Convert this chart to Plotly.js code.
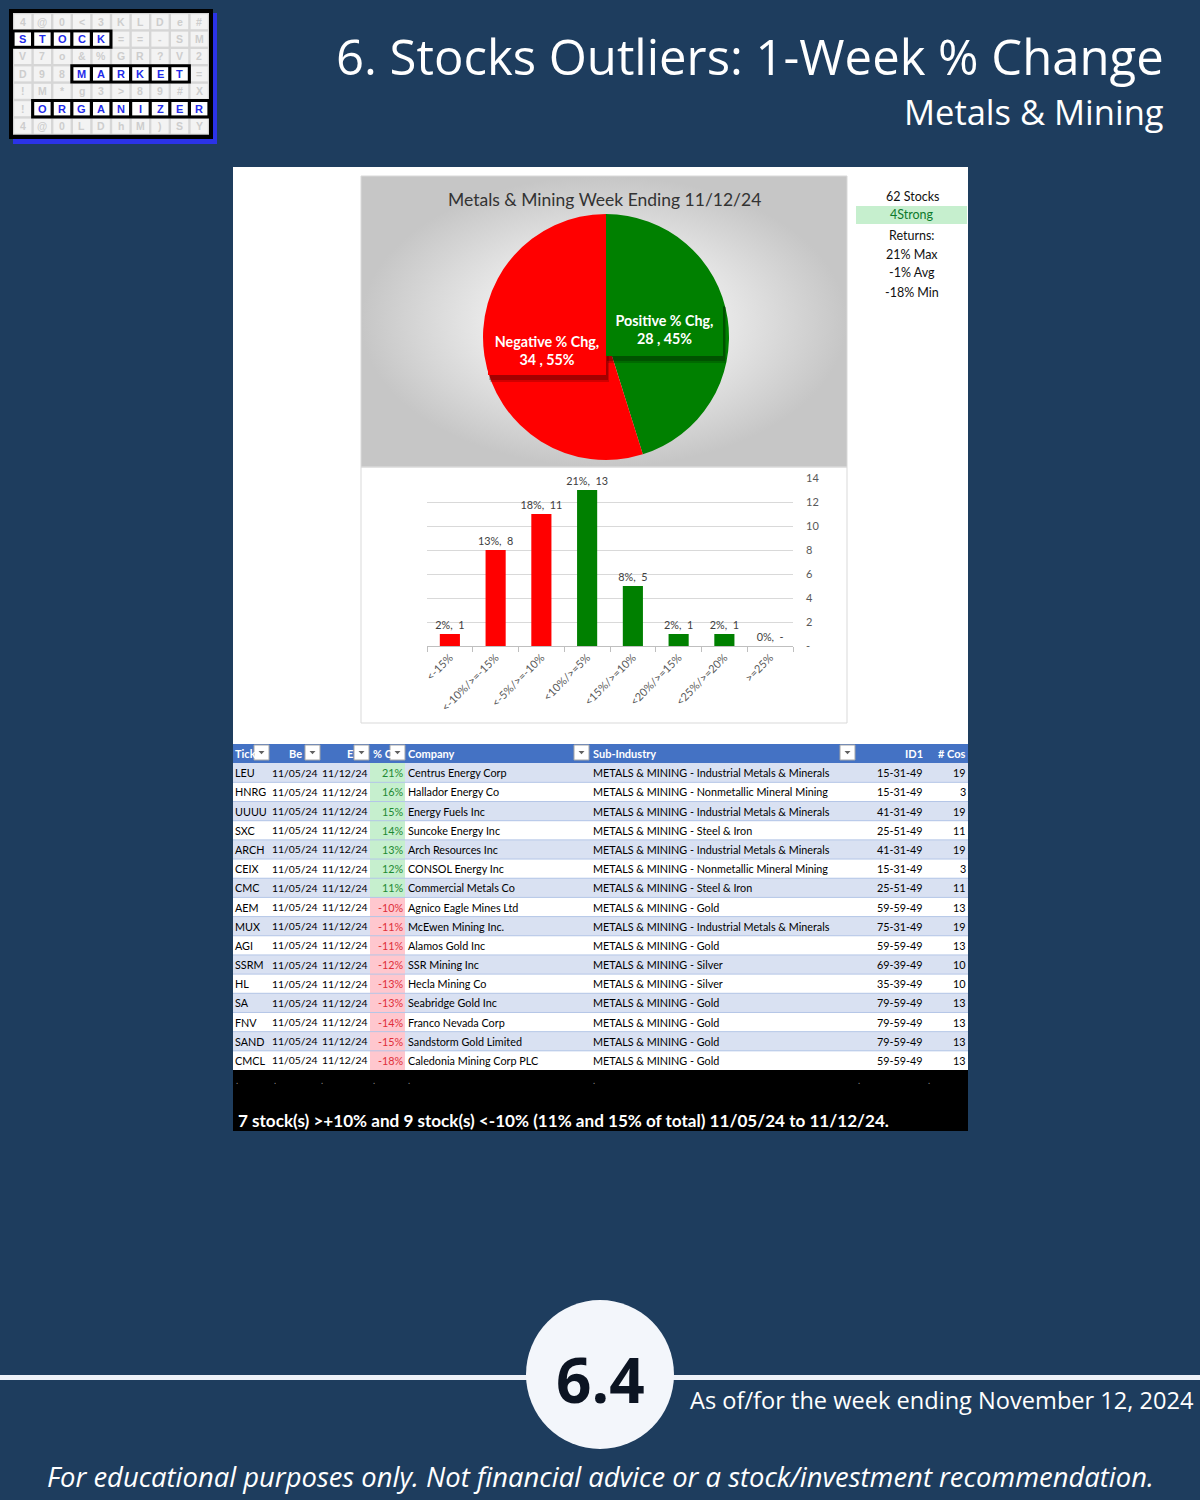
<!DOCTYPE html>
<html><head><meta charset="utf-8">
<script src="https://cdn.plot.ly/plotly-3.0.1.min.js"></script>
<style>
html,body{margin:0;padding:0;background:#1e3d5e;}
#base{width:1200px;height:1500px;}
</style></head><body>
<div id="base"></div>
<script>
// ---------------- DATA ----------------
const pageTitle = '6. Stocks Outliers: 1-Week % Change';
const pageSubtitle = 'Metals & Mining';
const pieTitle = 'Metals & Mining Week Ending 11/12/24';
const pieLabels = ['Positive % Chg', 'Negative % Chg'];
const pieCounts = [28, 34];
const piePct = [45, 55];
const pieColors = ['#008000', '#ff0000'];

const binLabels = ['<-15%', '<-10%/>=-15%', '<-5%/>=-10%', '<10%/>=5%', '<15%/>=10%', '<20%/>=15%', '<25%/>=20%', '>=25%'];
const binCounts = [1, 8, 11, 13, 5, 1, 1, 0];
const binPct = [2, 13, 18, 21, 8, 2, 2, 0];
const binColors = ['#ff0000', '#ff0000', '#ff0000', '#008000', '#008000', '#008000', '#008000', '#008000'];
const yTickVals = [0, 2, 4, 6, 8, 10, 12, 14];
const yTickText = ['-', '2', '4', '6', '8', '10', '12', '14'];

const statLines = ['62 Stocks', '4Strong', 'Returns:', '21% Max', '-1% Avg', '-18% Min'];

const tableHeader = ['Tick', 'Be', 'E', '% C', 'Company', 'Sub-Industry', 'ID1', '# Cos'];
const tickers = ['LEU', 'HNRG', 'UUUU', 'SXC', 'ARCH', 'CEIX', 'CMC', 'AEM', 'MUX', 'AGI', 'SSRM', 'HL', 'SA', 'FNV', 'SAND', 'CMCL'];
const begDates = ['11/05/24', '11/05/24', '11/05/24', '11/05/24', '11/05/24', '11/05/24', '11/05/24', '11/05/24', '11/05/24', '11/05/24', '11/05/24', '11/05/24', '11/05/24', '11/05/24', '11/05/24', '11/05/24'];
const endDates = ['11/12/24', '11/12/24', '11/12/24', '11/12/24', '11/12/24', '11/12/24', '11/12/24', '11/12/24', '11/12/24', '11/12/24', '11/12/24', '11/12/24', '11/12/24', '11/12/24', '11/12/24', '11/12/24'];
const pctChg = [21, 16, 15, 14, 13, 12, 11, -10, -11, -11, -12, -13, -13, -14, -15, -18];
const companies = ['Centrus Energy Corp', 'Hallador Energy Co', 'Energy Fuels Inc', 'Suncoke Energy Inc', 'Arch Resources Inc', 'CONSOL Energy Inc', 'Commercial Metals Co', 'Agnico Eagle Mines Ltd', 'McEwen Mining Inc.', 'Alamos Gold Inc', 'SSR Mining Inc', 'Hecla Mining Co', 'Seabridge Gold Inc', 'Franco Nevada Corp', 'Sandstorm Gold Limited', 'Caledonia Mining Corp PLC'];
const subIndustries = [
  'METALS & MINING - Industrial Metals & Minerals',
  'METALS & MINING - Nonmetallic Mineral Mining',
  'METALS & MINING - Industrial Metals & Minerals',
  'METALS & MINING - Steel & Iron',
  'METALS & MINING - Industrial Metals & Minerals',
  'METALS & MINING - Nonmetallic Mineral Mining',
  'METALS & MINING - Steel & Iron',
  'METALS & MINING - Gold',
  'METALS & MINING - Industrial Metals & Minerals',
  'METALS & MINING - Gold',
  'METALS & MINING - Silver',
  'METALS & MINING - Silver',
  'METALS & MINING - Gold',
  'METALS & MINING - Gold',
  'METALS & MINING - Gold',
  'METALS & MINING - Gold'];
const id1 = ['15-31-49', '15-31-49', '41-31-49', '25-51-49', '41-31-49', '15-31-49', '25-51-49', '59-59-49', '75-31-49', '59-59-49', '69-39-49', '35-39-49', '79-59-49', '79-59-49', '79-59-49', '59-59-49'];
const nCos = [19, 3, 19, 11, 19, 3, 11, 13, 19, 13, 10, 10, 13, 13, 13, 13];

const summaryText = '7 stock(s) >+10% and 9 stock(s) <-10% (11% and 15% of total) 11/05/24 to 11/12/24.';
const badgeText = '6.4';
const asOfText = 'As of/for the week ending November 12, 2024';
const footerText = 'For educational purposes only. Not financial advice or a stock/investment recommendation.';

const logoRows = [
  ['4', '@', '0', '<', '3', 'K', 'L', 'D', 'e', '#'],
  ['S', 'T', 'O', 'C', 'K', '=', '=', '-', 'S', 'M'],
  ['V', '7', 'o', '&', '%', 'G', 'R', '?', 'V', '2'],
  ['D', '9', '8', 'M', 'A', 'R', 'K', 'E', 'T', '='],
  ['!', 'M', '*', 'g', '3', '>', '8', '9', '#', 'X'],
  ['!', 'O', 'R', 'G', 'A', 'N', 'I', 'Z', 'E', 'R'],
  ['4', '@', '0', 'L', 'D', 'h', 'M', ')', 'S', 'Y']];
const logoWords = [{row: 1, c0: 0, c1: 4}, {row: 3, c0: 3, c1: 8}, {row: 5, c0: 1, c1: 9}];

// ---------------- HELPERS ----------------
const W = 1200, H = 1500;
const px = x => x / W, py = y => 1 - y / H;
const esc = s => String(s).replace(/&/g, '&amp;').replace(/</g, '&lt;').replace(/>/g, '&gt;');
const XL = 'Lato', PF = 'Open Sans';
function rect(x0, y0, x1, y1, fill, extra) {
  return Object.assign({type: 'rect', xref: 'paper', yref: 'paper', x0: px(x0), x1: px(x1), y0: py(y1), y1: py(y0),
    fillcolor: fill, line: {width: 0}, layer: 'below'}, extra || {});
}
function txt(x, y, text, size, color, extra, font) {
  return Object.assign({xref: 'paper', yref: 'paper', x: px(x), y: py(y), text: text, showarrow: false,
    xanchor: 'center', yanchor: 'middle', font: Object.assign({family: XL, size: size, color: color}, font || {})}, extra || {});
}

const shapes = [], annos = [];

// ---------------- LOGO ----------------
shapes.push(rect(13, 13, 217, 144, '#2b33e8'));
shapes.push(rect(9, 9, 213, 139, '#000000'));
const LX = 13, LY = 13, CW = 19.6, CH = 17.4;
shapes.push(rect(LX, LY, LX + 10 * CW, LY + 7 * CH, '#d6d6d6'));
const isWord = (r, c) => logoWords.some(w => w.row === r && c >= w.c0 && c <= w.c1);
logoRows.forEach((row, r) => row.forEach((ch, c) => {
  shapes.push(rect(LX + c * CW + 1.2, LY + r * CH + 1.2, LX + (c + 1) * CW - 1.2, LY + (r + 1) * CH - 1.2, '#f3f3f3'));
  if (!isWord(r, c)) annos.push(txt(LX + (c + 0.5) * CW, LY + (r + 0.5) * CH, esc(ch), 10.5, '#cdcdcd', {}, {family: 'Liberation Sans', weight: 'bold'}));
}));
logoWords.forEach(w => {
  shapes.push(rect(LX + w.c0 * CW - 1.5, LY + w.row * CH - 1, LX + (w.c1 + 1) * CW + 1.5, LY + (w.row + 1) * CH + 1, '#000000'));
  for (let c = w.c0; c <= w.c1; c++) {
    shapes.push(rect(LX + c * CW + 1.6, LY + w.row * CH + 2, LX + (c + 1) * CW - 1.6, LY + (w.row + 1) * CH - 2, '#ffffff'));
    annos.push(txt(LX + (c + 0.5) * CW, LY + (w.row + 0.5) * CH, esc(logoRows[w.row][c]), 11, '#1f2bea', {}, {family: 'Liberation Sans', weight: 'bold'}));
  }
});

// ---------------- TITLES ----------------
annos.push(txt(1166, 56, esc(pageTitle), 49, '#ffffff', {xanchor: 'right'}, {family: PF}));
annos.push(txt(1166, 112, esc(pageSubtitle), 34.5, '#ffffff', {xanchor: 'right'}, {family: PF}));

// ---------------- PANEL ----------------
shapes.push(rect(233, 167, 968, 1069, '#ffffff'));
shapes.push(rect(233, 1069, 968, 1131, '#000000'));
shapes.push(rect(361, 176, 847, 467, 'rgba(0,0,0,0)', {layer: 'above', line: {color: '#d9d9d9', width: 1}}));
shapes.push(rect(361, 467, 847, 723, 'rgba(0,0,0,0)', {layer: 'above', line: {color: '#d9d9d9', width: 1}}));
annos.push(txt(604, 199, esc(pieTitle), 17.5, '#333333'));

// stats panel
shapes.push(rect(856, 206, 967, 224, '#c6efce'));
const statY = [196, 215, 235, 254, 273, 292];
statLines.forEach((s, i) => annos.push(txt(912, statY[i], esc(s), 12.5, i === 1 ? '#0e7a2c' : '#111111')));

// pie label callouts (with shadows)
const calloutBoxes = [[606, 304, 723, 359], [488, 327, 606, 378]];
pieLabels.forEach((lab, i) => {
  const b = calloutBoxes[i];
  shapes.push(rect(b[0] + 2, b[1] + 3, b[2] + 3, b[3] + 4, 'rgba(0,0,0,0.18)', {layer: 'above'}));
  shapes.push(rect(b[0] + 1, b[1] + 2, b[2] + 2, b[3] + 2, 'rgba(0,0,0,0.22)', {layer: 'above'}));
  annos.push(txt((b[0] + b[2]) / 2, (b[1] + b[3]) / 2 - 2, '<b>' + esc(lab) + ',<br>' + pieCounts[i] + ' , ' + piePct[i] + '%</b>', 14.3, '#ffffff',
    {bgcolor: pieColors[i], width: b[2] - b[0], height: b[3] - b[1] - 2, borderpad: 0, borderwidth: 0}));
});

// black band
[237, 275, 322, 374, 409, 594, 859, 929].forEach(x => annos.push(txt(x, 1080, '.', 9, '#8a8a8a')));
annos.push(txt(236, 1120, '<b>' + esc(summaryText) + '</b>', 17.1, '#ffffff', {xanchor: 'left'}));

// ---------------- BOTTOM ----------------
shapes.push(rect(0, 1375, 1200, 1380, '#eef2f8'));
shapes.push({type: 'circle', xref: 'paper', yref: 'paper', x0: px(526), x1: px(674), y0: py(1449), y1: py(1300), fillcolor: '#f3f6fb', line: {width: 0}, layer: 'below'});
annos.push(txt(600, 1379, '<b>' + esc(badgeText) + '</b>', 62, '#0c1422', {}, {family: PF}));
annos.push(txt(688, 1400, esc(asOfText), 23.6, '#ffffff', {xanchor: 'left'}, {family: PF}));
annos.push(txt(600, 1476, '<i>' + esc(footerText) + '</i>', 27.4, '#ffffff', {}, {family: PF}));

// ---------------- TRACES ----------------
const traces = [];
// pie box gradient background
traces.push({type: 'scatter', xaxis: 'x', yaxis: 'y', x: [361, 847, 847, 361, 361], y: [176, 176, 467, 467, 176],
  mode: 'lines', line: {width: 0}, fill: 'toself', hoverinfo: 'skip', showlegend: false,
  fillgradient: {type: 'radial', colorscale: [[0, '#f6f6f6'], [0.45, '#ebebeb'], [1, '#c6c6c6']]}});

traces.push({type: 'bar', xaxis: 'x2', yaxis: 'y2', x: binLabels.map(esc), y: binCounts,
  marker: {color: binColors, line: {width: 0}},
  text: binCounts.map((c, i) => binPct[i] + '%,\u00a0\u00a0' + (c === 0 ? '-' : c)),
  textposition: 'outside', textangle: 0, constraintext: 'none', cliponaxis: false,
  textfont: {family: XL, size: 10.8, color: '#404040'}, hoverinfo: 'skip', showlegend: false});

traces.push({type: 'pie', labels: pieLabels, values: pieCounts, sort: false, direction: 'clockwise', rotation: 0,
  marker: {colors: pieColors, line: {width: 0}}, textinfo: 'none', hoverinfo: 'skip', showlegend: false,
  domain: {x: [px(483), px(729)], y: [py(460), py(214)]}});

// ---------------- TABLE (heatmap cells + text on its own axes) ----------------
const colEdges = [0, 40, 87, 137, 172, 352, 622, 698, 735];      // table-local px
const colVals = [tickers, begDates, endDates, pctChg.map(v => v + '%'), companies, subIndustries, id1, nCos];
const cellAnchor = [[0, 'left'], [86.5, 'right'], [137, 'right'], [173, 'right'], [173, 'left'], [358, 'left'], [692, 'right'], [735, 'right']];
const headAnchor = [[0, 'left'], [71, 'right'], [122, 'right'], [138, 'left'], [173, 'left'], [358, 'left'], [692, 'right'], [735, 'right']];
const cellSize = [10.8, 10.4, 10.4, 10.8, 10.8, 10.8, 10.8, 10.8];
// codes: 0 white, 1 band blue, 2 green, 3 pink, 4 header
const zCells = [tableHeader.map(() => 4)].concat(tickers.map((t, ri) => tableHeader.map((h, ci) =>
  ci === 3 ? (pctChg[ri] > 0 ? 2 : 3) : (ri % 2 === 0 ? 1 : 0))));
traces.push({type: 'heatmap', xaxis: 'x3', yaxis: 'y3', x: colEdges, y: zCells.map((r, i) => i), z: zCells,
  zmin: 0, zmax: 4, showscale: false, hoverinfo: 'skip',
  colorscale: [[0, '#ffffff'], [0.125, '#ffffff'], [0.125, '#d9e1f2'], [0.375, '#d9e1f2'], [0.375, '#c6efce'], [0.625, '#c6efce'],
    [0.625, '#ffc7ce'], [0.875, '#ffc7ce'], [0.875, '#4472c4'], [1, '#4472c4']]});
tableHeader.forEach((h, ci) => {
  annos.push({xref: 'x3', yref: 'y3', x: headAnchor[ci][0], y: 0, xanchor: headAnchor[ci][1], yanchor: 'middle', showarrow: false,
    text: '<b>' + esc(h) + '</b>', font: {family: XL, size: 11, color: '#ffffff'}});
  colVals[ci].forEach((v, ri) => {
    const col = ci === 3 ? (pctChg[ri] > 0 ? '#1e8a32' : '#e0303a') : '#000000';
    annos.push({xref: 'x3', yref: 'y3', x: cellAnchor[ci][0], y: ri + 1, xanchor: cellAnchor[ci][1], yanchor: 'middle', showarrow: false,
      text: esc(v), font: {family: XL, size: cellSize[ci], color: col}});
  });
});
for (let i = 1; i < tickers.length; i++) {
  shapes.push({type: 'line', xref: 'x3', yref: 'y3', x0: 0, x1: 735, y0: i + 0.5, y1: i + 0.5, layer: 'above', line: {color: '#b4c6e7', width: 1}});
}
const btnX = [254, 305, 354, 390, 574, 840];
btnX.forEach(x => {
  shapes.push(rect(x, 745, x + 15, 760, '#ffffff', {layer: 'above', line: {color: '#a6a6a6', width: 1}}));
  const cx = x + 7.5, cy = 752.5;
  shapes.push({type: 'path', xref: 'paper', yref: 'paper', layer: 'above',
    path: 'M ' + px(cx - 3) + ' ' + py(cy - 1.5) + ' L ' + px(cx + 3) + ' ' + py(cy - 1.5) + ' L ' + px(cx) + ' ' + py(cy + 1.8) + ' Z',
    fillcolor: '#606060', line: {width: 0}});
});

const layout = {
  width: W, height: H, margin: {l: 0, r: 0, t: 0, b: 0},
  paper_bgcolor: '#1e3d5e', plot_bgcolor: 'rgba(0,0,0,0)', showlegend: false,
  xaxis: {domain: [0, 1], range: [0, W], visible: false, fixedrange: true},
  yaxis: {domain: [0, 1], range: [H, 0], visible: false, fixedrange: true},
  xaxis2: {domain: [px(427), px(793)], anchor: 'y2', type: 'category', tickson: 'boundaries', ticks: 'outside', ticklen: 5,
    tickcolor: '#bfbfbf', showline: true, linecolor: '#bfbfbf', linewidth: 1, showgrid: false, tickangle: -45,
    tickfont: {family: XL, size: 11, color: '#595959'}, fixedrange: true},
  yaxis2: {domain: [py(646), py(478)], anchor: 'x2', side: 'right', range: [0, 14], tickvals: yTickVals, ticktext: yTickText,
    showgrid: true, gridcolor: '#d9d9d9', gridwidth: 1, zeroline: false, showline: false, ticks: '', ticklabelstandoff: 12,
    tickfont: {family: XL, size: 11, color: '#595959'}, fixedrange: true},
  xaxis3: {domain: [px(233), px(968)], anchor: 'y3', range: [0, 735], visible: false, fixedrange: true},
  yaxis3: {domain: [py(1070), py(744)], anchor: 'x3', range: [16.5, -0.5], visible: false, fixedrange: true},
  bargap: 0.56,
  shapes: shapes, annotations: annos
};
Plotly.newPlot('base', traces, layout, {displayModeBar: false, staticPlot: true});
</script>
</body></html>
